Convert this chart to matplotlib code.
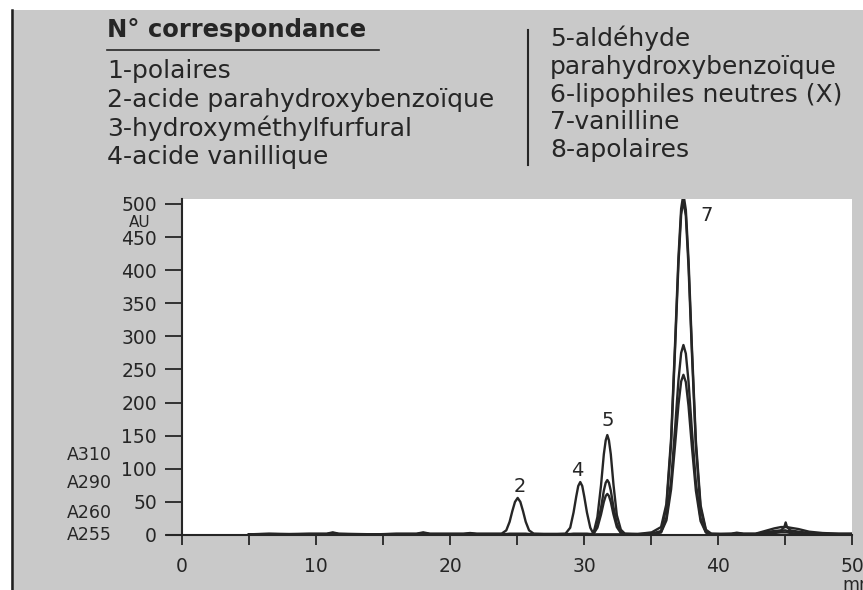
import matplotlib
matplotlib.use("Agg")
import matplotlib.pyplot as plt
from matplotlib.lines import Line2D
from matplotlib.patches import Rectangle

# retention time (min), shared by the four detector traces
t_min = [5.0, 6.5, 8.0, 9.5, 10.8, 11.25, 11.7, 13.0, 14.5, 16.0, 17.5, 18.0, 18.5, 20.0, 21.0, 21.5, 22.0, 23.0,
         23.85, 24.2, 24.45, 24.65, 24.85, 25.05, 25.25, 25.45, 25.65, 25.9, 26.25,
         27.0, 28.0,
         28.62, 28.97, 29.22, 29.42, 29.57, 29.72, 29.87, 30.02, 30.22, 30.47,
         30.7, 31.0, 31.27, 31.48, 31.62, 31.74, 31.86, 32.0, 32.2, 32.45, 32.75, 33.05,
         34.0, 35.05,
         35.75, 36.15, 36.5, 36.8, 37.05, 37.25, 37.42, 37.6, 37.8, 38.05, 38.35, 38.7, 39.1, 39.5,
         40.2, 41.0, 41.4, 41.9, 42.8, 43.5, 44.2, 44.7, 44.95, 45.05, 45.15, 45.4, 46.0, 46.8, 47.8, 49.0, 50.0]

# absorbance (AU)
a255 = [1, 2, 1.5, 2, 2, 4, 2, 1.5, 1, 2, 2, 4, 2, 2, 2, 3, 2, 2,
        2, 7, 20, 36, 50, 56, 50, 36, 20, 7, 2,
        1.5, 1.5,
        2, 11, 34, 58, 74, 80, 74, 58, 34, 11,
        2, 27, 75, 122, 143, 151, 143, 122, 76, 30, 8, 2,
        1.5, 4,
        12, 47, 146, 291, 420, 493, 515, 491, 416, 285, 142, 45, 8, 2,
        1.5, 2, 3.5, 2, 2, 6, 10, 12, 12, 12, 12, 11, 9, 5, 3, 2, 2]
a260 = [1, 1.5, 1, 1.5, 1.5, 3, 1.5, 1, 1, 1.5, 1.5, 3, 1.5, 1.5, 1.5, 2, 1.5, 1.5,
        1.5, 1.5, 2, 2, 2, 2, 2, 2, 2, 1.5, 1.5,
        1.5, 1.5,
        1.5, 1.5, 2, 2, 2, 2, 2, 2, 2, 1.5,
        1.5, 15, 41, 67, 79, 83, 79, 67, 42, 17, 4, 1.5,
        1.5, 1.5,
        4.5, 26, 82, 162, 234, 275, 287, 274, 232, 159, 79, 25, 4.3, 1.5,
        1.5, 1.5, 2, 1.5, 1.5, 4, 6, 7, 12, 19, 12, 7, 5, 3, 2, 1.5, 1.5]
a290 = [1, 1, 1, 1, 1, 2, 1, 1, 1, 1, 1, 2, 1, 1, 1, 1.5, 1, 1,
        1, 1, 1, 1, 1, 1, 1, 1, 1, 1, 1,
        1, 1,
        1, 1, 1, 1, 1, 1, 1, 1, 1, 1,
        1.5, 11, 31, 50, 59, 62, 59, 50, 31, 12, 3, 1.5,
        1, 1.5,
        3.8, 22, 69, 137, 197, 232, 242, 231, 195, 134, 67, 21, 3.6, 1.5,
        1.5, 1.5, 2.5, 1.5, 1.5, 3, 5, 6, 7, 7, 6, 6, 4, 2, 1.5, 1.5, 1.5]
a310 = [1, 1, 1, 1, 1, 1.5, 1, 1, 1, 1, 1, 1.5, 1, 1, 1, 1, 1, 1,
        1, 1, 1, 1, 1, 1, 1, 1, 1, 1, 1,
        1, 1,
        1, 1, 1, 1, 1, 1, 1, 1, 1, 1,
        1, 1, 1, 1, 1, 1, 1, 1, 1, 1, 1, 1,
        1, 2,
        6, 42, 138, 283, 410, 484, 505, 482, 405, 277, 134, 40, 6, 1,
        1, 1, 1.5, 1, 1, 2, 3, 4, 4, 4, 4, 3, 2, 1.5, 1, 1, 1]

trace_names = ['A310', 'A290', 'A260', 'A255']
trace_label_py = [455, 483, 513, 535]

peak_labels = ['2', '4', '5', '7']
peak_label_t = [25.2, 29.5, 31.75, 39.15]
peak_label_au = [74, 97, 173, 483]

legend_left = ['1-polaires', '2-acide parahydroxybenzoïque',
               '3-hydroxyméthylfurfural', '4-acide vanillique']
legend_right = ['5-aldéhyde', 'parahydroxybenzoïque', '6-lipophiles neutres (X)',
                '7-vanilline', '8-apolaires']

W, H = 863, 590
ink = '#262626'


def fx(px):
    return px / W


def fy(py):
    return 1 - py / H


fig = plt.figure(figsize=(W / 100, H / 100), dpi=100)
fig.patch.set_facecolor('#c9c9c9')

# scan edges
fig.add_artist(Rectangle((0, fy(10)), 1, 10 / H, transform=fig.transFigure, facecolor='white', edgecolor='none'))
fig.add_artist(Rectangle((0, 0), fx(11), 1, transform=fig.transFigure, facecolor='white', edgecolor='none'))
fig.add_artist(Line2D([fx(12), fx(12)], [0, fy(10)], color='#1e1e1e', lw=1.8))

# header block
fig.text(fx(107), fy(37), 'N° correspondance', fontsize=17.5, fontweight='bold', color=ink, va='baseline')
fig.add_artist(Line2D([fx(107), fx(379)], [fy(50), fy(50)], color=ink, lw=1.2))
for txt, base in zip(legend_left, [78, 107, 136, 164]):
    fig.text(fx(107), fy(base), txt, fontsize=18, color=ink, va='baseline')
fig.add_artist(Line2D([fx(528), fx(528)], [fy(30), fy(165)], color=ink, lw=1.5))
for txt, base in zip(legend_right, [46, 74, 102, 129, 157]):
    fig.text(fx(550), fy(base), txt, fontsize=18, color=ink, va='baseline')

# chromatogram
ax = fig.add_axes([fx(182), fy(535), fx(852) - fx(182), fy(199) - fy(535)])
ax.set_facecolor('white')
for y in [a255, a260, a290, a310]:
    ax.plot(t_min, y, color=ink, lw=1.7)

for lab, t, au in zip(peak_labels, peak_label_t, peak_label_au):
    ax.text(t, au, lab, ha='center', va='center', fontsize=14, color=ink)

ax.set_xlim(0, 50)
ax.set_ylim(0, 507.5)
for s in ['top', 'right']:
    ax.spines[s].set_visible(False)
for s in ['left', 'bottom']:
    ax.spines[s].set_color(ink)
    ax.spines[s].set_linewidth(1.5)
# x axis line runs a little past the y axis, as in the scan
ax.plot([-1.1, 0], [0, 0], color=ink, lw=1.5, clip_on=False)

ax.set_yticks(range(0, 501, 50))
ax.set_xticks(range(0, 51, 10))
ax.set_xticks(range(5, 50, 10), minor=True)
ax.tick_params(axis='y', direction='out', length=12, width=1.3, pad=6, labelsize=13.5,
               colors=ink)
ax.tick_params(axis='x', which='both', direction='out', length=7, width=1.3, pad=9,
               labelsize=13.5, colors=ink)

# axis annotations
fig.text(fx(140), fy(223), 'AU', ha='center', va='center', fontsize=11, color=ink)
for name, py in zip(trace_names, trace_label_py):
    fig.text(fx(67), fy(py), name, ha='left', va='center', fontsize=12.5, color=ink)
fig.text(fx(842), fy(585), 'mn', ha='left', va='center', fontsize=12.5, color=ink)

fig.savefig('out.png', dpi=100, facecolor=fig.get_facecolor())
